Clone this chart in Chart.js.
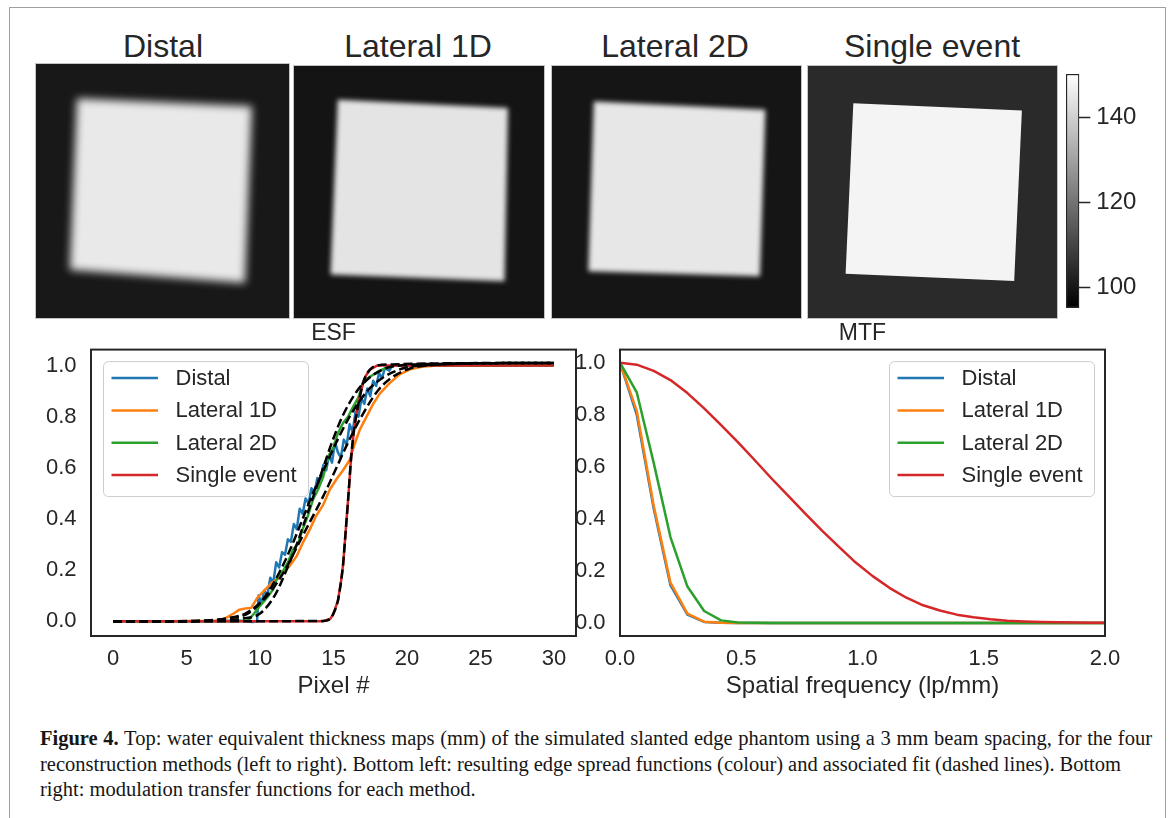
<!DOCTYPE html>
<html>
<head>
<meta charset="utf-8">
<title>Figure 4</title>
<script src="https://cdn.jsdelivr.net/npm/chart.js@4.4.0/dist/chart.umd.min.js"></script>
<style>
body { margin: 0; background: #fff; }
#page { position: relative; width: 1171px; height: 818px; overflow: hidden; color: #262626;
        font-family: "Liberation Sans", Arial, sans-serif; }
#frame { position: absolute; left: 9px; top: 7px; width: 1155px; height: 900px; border: 1px solid #a0a0a0; }
canvas { position: absolute; }
.map { outline: 1px solid #c4c4c4; }
.maptitle { position: absolute; top: 30px; width: 260px; font-size: 32px; line-height: 32px;
            text-align: center; white-space: nowrap; }
.cap { position: absolute; left: 40px; font-family: "Liberation Serif", serif; font-size: 20.5px;
       line-height: 25px; color: #161616; white-space: nowrap; }
</style>
</head>
<body>
<div id="page">
  <div id="frame"></div>

  <div class="maptitle" style="left:33px">Distal</div>
  <div class="maptitle" style="left:288px">Lateral 1D</div>
  <div class="maptitle" style="left:545px">Lateral 2D</div>
  <div class="maptitle" style="left:802px">Single event</div>

  <canvas id="map0" class="map" width="253" height="254" style="left:36px;top:64px"></canvas>
  <canvas id="map1" class="map" width="250" height="252" style="left:294px;top:66px"></canvas>
  <canvas id="map2" class="map" width="249" height="252" style="left:552px;top:66px"></canvas>
  <canvas id="map3" class="map" width="249" height="252" style="left:808px;top:66px"></canvas>
  <canvas id="cbar" width="100" height="260" style="left:1056px;top:64px"></canvas>

  <canvas id="esf" width="590" height="400" style="left:0px;top:320px"></canvas>
  <canvas id="mtf" width="611" height="400" style="left:560px;top:320px"></canvas>

  <div class="cap" data-w="1112" style="top:726px"><b>Figure 4.</b> Top: water equivalent thickness maps (mm) of the simulated slanted edge phantom using a 3 mm beam spacing, for the four</div>
  <div class="cap" data-w="1081" style="top:751.5px">reconstruction methods (left to right). Bottom left: resulting edge spread functions (colour) and associated fit (dashed lines). Bottom</div>
  <div class="cap" style="top:777px">right: modulation transfer functions for each method.</div>
</div>

<script>
// ---- thickness maps (mm) ----
const wetMin = 95.2;
const wetMax = 150.2;
const wetTicks = [100, 120, 140];

const mapTitles = ['Distal', 'Lateral 1D', 'Lateral 2D', 'Single event'];
const mapBackgroundWet = [100.4, 99.6, 99.8, 104.2];
const mapPhantomWet = [145.4, 144.4, 145.0, 147.8];
// phantom corners (TL, TR, BR, BL) in % of the field, y measured downwards
const mapCornerX = [[16.2, 85.3, 82.6, 13.4], [17.5, 85.6, 84.2, 14.6], [16.8, 85.7, 83.5, 14.6], [18.2, 85.9, 82.8, 15.1]];
const mapCornerY = [[13.6, 16.6, 86.2, 81.0], [13.4, 16.7, 85.4, 82.7], [14.1, 17.4, 83.4, 81.4], [14.8, 17.7, 85.3, 82.4]];

// ---- ESF (pixel #) ----
const esfXTicks = [0, 5, 10, 15, 20, 25, 30];
const esfYTicks = [0, 0.2, 0.4, 0.6, 0.8, 1.0];

const distalX = [0, 3, 6, 8, 9, 9.5, 9.8, 9.9, 10.1, 10.3, 10.5, 10.7, 10.9, 11.1, 11.3, 11.5, 11.7, 11.9, 12.1, 12.3, 12.5, 12.7, 12.9, 13.1, 13.3, 13.5, 13.7, 13.9, 14.1, 14.3, 14.5, 14.7, 14.9, 15.1, 15.3, 15.5, 15.7, 15.9, 16.1, 16.3, 16.5, 16.7, 16.9, 17.1, 17.3, 17.5, 17.7, 17.9, 18.1, 18.3, 18.5, 18.8, 19.0, 19.5, 20, 25, 30];
const distalY = [0, 0, 0, 0.002, 0, -0.003, 0, 0.10, 0.07, 0.12, 0.10, 0.17, 0.15, 0.23, 0.21, 0.27, 0.26, 0.32, 0.31, 0.38, 0.36, 0.44, 0.42, 0.48, 0.46, 0.52, 0.50, 0.56, 0.54, 0.61, 0.59, 0.65, 0.62, 0.70, 0.66, 0.64, 0.71, 0.69, 0.77, 0.74, 0.82, 0.80, 0.87, 0.85, 0.91, 0.88, 0.94, 0.92, 0.97, 0.95, 0.99, 0.98, 1.0, 1.0, 1.0, 1.0, 1.0];

const lat1dX = [0, 4, 7, 7.6, 8.2, 8.6, 9.0, 9.4, 9.8, 10.3, 10.8, 11.2, 11.6, 12.0, 12.5, 12.9, 13.4, 13.8, 14.3, 14.75, 15.2, 15.65, 16.1, 16.45, 16.8, 17.25, 17.7, 18.15, 18.8, 19.5, 20.2, 21, 22, 26, 30];
const lat1dY = [0, 0, 0.002, 0.01, 0.03, 0.045, 0.05, 0.052, 0.09, 0.12, 0.15, 0.165, 0.195, 0.215, 0.255, 0.305, 0.36, 0.41, 0.455, 0.515, 0.555, 0.59, 0.63, 0.695, 0.75, 0.80, 0.85, 0.89, 0.93, 0.965, 0.985, 0.995, 1.0, 1.0, 1.0];

const lat2dX = [0, 4, 8, 9.2, 9.6, 10.0, 10.45, 10.9, 11.2, 11.55, 11.9, 12.25, 12.6, 12.9, 13.25, 13.6, 13.95, 14.3, 14.65, 15.0, 15.3, 15.65, 16.0, 16.35, 16.7, 17.0, 17.45, 18.15, 19.0, 22, 30];
const lat2dY = [0, 0, 0, 0.003, 0.03, 0.06, 0.09, 0.125, 0.175, 0.195, 0.23, 0.28, 0.305, 0.36, 0.41, 0.475, 0.515, 0.565, 0.645, 0.68, 0.735, 0.775, 0.80, 0.84, 0.875, 0.93, 0.955, 0.98, 1.0, 1.0, 1.0];

const singleX = [0, 5, 10, 14.3, 14.8, 15.0, 15.3, 15.5, 15.65, 15.8, 16.0, 16.2, 16.4, 16.6, 16.8, 17.0, 17.2, 17.5, 18.0, 22, 30];
const singleY = [0, 0, 0, 0, 0.01, 0.03, 0.08, 0.15, 0.22, 0.33, 0.48, 0.64, 0.75, 0.82, 0.88, 0.93, 0.96, 0.985, 1.0, 1.0, 1.0];

// fitted edge functions (dashed)
const fitDistalX = [0, 4, 7, 8, 9.3, 10.4, 11.4, 12.2, 12.9, 13.6, 14.4, 15.2, 16.1, 17.3, 18.3, 19.8, 21, 23, 26, 30];
const fitDistalY = [0, 0, 0.004, 0.012, 0.034, 0.1, 0.2, 0.3, 0.4, 0.5, 0.6, 0.7, 0.8, 0.9, 0.95, 0.99, 1.0, 1.006, 1.009, 1.01];
const fitLat1dX = [0, 4, 6.5, 7.8, 9.0, 10.5, 11.7, 12.6, 13.5, 14.4, 15.2, 16.0, 16.9, 18.0, 18.9, 20.3, 21.5, 23, 26, 30];
const fitLat1dY = [0, 0, 0.003, 0.012, 0.03, 0.1, 0.2, 0.3, 0.4, 0.5, 0.6, 0.7, 0.8, 0.9, 0.95, 0.99, 1.0, 1.006, 1.009, 1.01];
const fitLat2dX = [0, 4, 7.5, 8.8, 10.0, 11.0, 11.8, 12.5, 13.1, 13.7, 14.3, 14.9, 15.6, 16.6, 17.4, 18.6, 19.5, 22, 26, 30];
const fitLat2dY = [0, 0, 0.002, 0.01, 0.03, 0.1, 0.2, 0.3, 0.4, 0.5, 0.6, 0.7, 0.8, 0.9, 0.95, 0.99, 1.0, 1.006, 1.009, 1.01];
const fitSingleX = [0, 5, 10, 14.3, 14.8, 15.0, 15.3, 15.5, 15.65, 15.8, 16.0, 16.2, 16.4, 16.6, 16.8, 17.0, 17.2, 17.5, 18.0, 19, 22, 30];
const fitSingleY = [0, 0, 0, 0.001, 0.01, 0.03, 0.08, 0.15, 0.22, 0.33, 0.48, 0.64, 0.75, 0.82, 0.88, 0.93, 0.96, 0.985, 1.0, 1.004, 1.008, 1.01];

// ---- MTF (lp/mm) ----
const mtfXTicks = [0, 0.5, 1.0, 1.5, 2.0];
const mtfYTicks = [0, 0.2, 0.4, 0.6, 0.8, 1.0];
const mtfFreq = [0.000, 0.069, 0.139, 0.208, 0.278, 0.347, 0.417, 0.486, 0.556, 0.625, 0.694, 0.764, 0.833, 0.903, 0.972, 1.042, 1.111, 1.181, 1.250, 1.319, 1.389, 1.458, 1.528, 1.597, 1.667, 1.736, 1.806, 1.875, 1.944, 2.014];
const mtfDistal = [1.0, 0.80, 0.44, 0.145, 0.032, 0.004, 0.001, 0, 0, 0, 0, 0, 0, 0, 0, 0, 0, 0, 0, 0, 0, 0, 0, 0, 0, 0, 0, 0, 0, 0];
const mtfLat1d = [1.0, 0.815, 0.45, 0.155, 0.036, 0.005, 0.001, 0, 0, 0, 0, 0, 0, 0, 0, 0, 0, 0, 0, 0, 0, 0, 0, 0, 0, 0, 0, 0, 0, 0];
const mtfLat2d = [1.0, 0.886, 0.615, 0.33, 0.14, 0.046, 0.01, 0.002, 0.001, 0, 0, 0, 0, 0, 0, 0, 0, 0, 0, 0, 0, 0, 0, 0, 0, 0, 0, 0, 0, 0];
const mtfSingle = [1.0, 0.992, 0.968, 0.933, 0.883, 0.824, 0.76, 0.695, 0.625, 0.555, 0.488, 0.42, 0.355, 0.292, 0.232, 0.18, 0.135, 0.097, 0.068, 0.048, 0.032, 0.022, 0.014, 0.009, 0.006, 0.004, 0.003, 0.002, 0.001, 0.001];

const methodColors = ['#1f77b4', '#ff7f0e', '#2ca02c', '#d62728'];
const ink = '#262626';

Chart.defaults.font.family = '"Liberation Sans", Arial, sans-serif';
Chart.defaults.color = ink;

function grey(v) {
    var t = Math.max(0, Math.min(1, (v - wetMin) / (wetMax - wetMin)));
    var g = Math.round(t * 255);
    return 'rgb(' + g + ',' + g + ',' + g + ')';
}

function points(xs, ys) {
    return xs.map(function (x, i) { return { x: x, y: ys[i] }; });
}

// ---- the four maps ----
var mapBlur = [4.5, 2.6, 2.6, 0.6];
mapTitles.forEach(function (title, i) {
    var xs = mapCornerX[i].concat([mapCornerX[i][0]]);
    var ys = mapCornerY[i].concat([mapCornerY[i][0]]);
    new Chart(document.getElementById('map' + i), {
        type: 'line',
        data: {
            datasets: [{
                label: title,
                data: points(xs, ys),
                fill: 'shape',
                backgroundColor: grey(mapPhantomWet[i]),
                borderColor: 'rgba(0,0,0,0)',
                borderWidth: 1,
                pointRadius: 0,
                tension: 0
            }]
        },
        options: {
            responsive: false, animation: false, devicePixelRatio: 1,
            layout: { padding: 0 },
            scales: {
                x: { type: 'linear', display: false, min: 0, max: 100 },
                y: { type: 'linear', display: false, min: 0, max: 100, reverse: true }
            },
            plugins: { legend: { display: false }, tooltip: { enabled: false } }
        },
        plugins: [{
            id: 'mapBackground',
            beforeDraw: function (chart) {
                var ctx = chart.ctx;
                ctx.fillStyle = grey(mapBackgroundWet[i]);
                ctx.fillRect(0, 0, chart.width, chart.height);
                ctx.filter = 'blur(' + mapBlur[i] + 'px)';
            },
            afterDraw: function (chart) { chart.ctx.filter = 'none'; }
        }]
    });
});

// ---- colour bar ----
new Chart(document.getElementById('cbar'), {
    type: 'bar',
    data: {
        labels: ['WET'],
        datasets: [{
            data: [[wetMin, wetMax]],
            backgroundColor: function (c) {
                var a = c.chart.chartArea;
                if (!a) return '#777';
                var g = c.chart.ctx.createLinearGradient(0, a.bottom, 0, a.top);
                g.addColorStop(0, grey(wetMin));
                g.addColorStop(1, grey(wetMax));
                return g;
            },
            borderColor: ink,
            borderWidth: 1.5,
            borderSkipped: false,
            barPercentage: 1,
            categoryPercentage: 1
        }]
    },
    options: {
        responsive: false, animation: false, devicePixelRatio: 1,
        layout: { padding: { left: 10, top: 10, bottom: 16 } },
        scales: {
            x: { display: false },
            y: {
                position: 'right', min: wetMin, max: wetMax,
                afterBuildTicks: function (s) { s.ticks = wetTicks.map(function (v) { return { value: v }; }); },
                afterFit: function (s) { s.width = 76.7; s.paddingTop = 0; s.paddingBottom = 0; },
                grid: { drawOnChartArea: false, tickLength: 11, tickColor: ink, tickWidth: 1.5 },
                border: { display: false },
                ticks: { padding: 6, font: { size: 24 }, color: ink }
            }
        },
        plugins: { legend: { display: false }, tooltip: { enabled: false } }
    }
});

// ---- ESF / MTF panels ----
var frameBox = {
    id: 'frameBox',
    afterDatasetsDraw: function (chart) {
        var a = chart.chartArea, ctx = chart.ctx;
        ctx.save();
        ctx.strokeStyle = ink;
        ctx.lineWidth = 2;
        ctx.strokeRect(a.left, a.top, a.right - a.left, a.bottom - a.top);
        ctx.restore();
    }
};

var boxLegend = {
    id: 'boxLegend',
    afterDraw: function (chart, args, opts) {
        var a = chart.chartArea, ctx = chart.ctx;
        var items = chart.data.datasets.filter(function (d) { return d.inLegend; });
        var w = 205, h = 135;
        var left = opts.side === 'left' ? a.left + 12 : a.right - 11 - w;
        var top = a.top + 11.5;
        ctx.save();
        ctx.beginPath();
        ctx.roundRect(left + 0.5, top + 0.5, w, h, 5);
        ctx.fillStyle = 'rgba(255,255,255,0.8)';
        ctx.fill();
        ctx.strokeStyle = '#cccccc';
        ctx.lineWidth = 1;
        ctx.stroke();
        ctx.font = '22px "Liberation Sans", Arial, sans-serif';
        ctx.textBaseline = 'middle';
        items.forEach(function (d, k) {
            var y = top + 17 + k * 32.3;
            ctx.strokeStyle = d.borderColor;
            ctx.lineWidth = 2.5;
            ctx.beginPath();
            ctx.moveTo(left + 8.5, y);
            ctx.lineTo(left + 55, y);
            ctx.stroke();
            ctx.fillStyle = ink;
            ctx.fillText(d.label, left + 72.5, y + 1);
        });
        ctx.restore();
    }
};

function panel(id, cfg) {
    return new Chart(document.getElementById(id), {
        type: 'line',
        data: { datasets: cfg.datasets },
        options: {
            responsive: false, animation: false, devicePixelRatio: 1,
            layout: { padding: { right: cfg.rightPad, top: 0, bottom: 0, left: 0 } },
            elements: {
                point: { radius: 0 },
                line: { borderWidth: 2.5, tension: 0, borderJoinStyle: 'round', borderCapStyle: 'butt' }
            },
            scales: {
                x: {
                    type: 'linear', min: cfg.xMin, max: cfg.xMax,
                    grid: { display: false, drawTicks: false }, border: { display: false },
                    afterBuildTicks: function (s) { s.ticks = cfg.xTicks.map(function (v) { return { value: v }; }); },
                    afterFit: function (s) { s.height = 84; },
                    ticks: { padding: 10, autoSkip: false, maxRotation: 0, font: { size: 22 }, color: ink, callback: cfg.xFmt },
                    title: { display: true, text: cfg.xTitle, font: { size: 24 }, color: ink, padding: { top: 0, bottom: 19 } }
                },
                y: {
                    type: 'linear', min: cfg.yMin, max: cfg.yMax,
                    grid: { display: false, drawTicks: false }, border: { display: false },
                    afterBuildTicks: function (s) { s.ticks = cfg.yTicks.map(function (v) { return { value: v }; }); },
                    afterFit: function (s) { s.width = cfg.yWidth; },
                    ticks: { padding: 14.5, font: { size: 22 }, color: ink, callback: function (v) { return v.toFixed(1); } }
                }
            },
            plugins: {
                legend: { display: false },
                tooltip: { enabled: false },
                title: { display: true, text: cfg.title, fullSize: false, color: ink,
                         font: { size: 23, weight: 'normal' }, padding: { top: 0, bottom: 2 } },
                boxLegend: { side: cfg.legendSide }
            }
        },
        plugins: [frameBox, boxLegend]
    });
}

function curve(label, xs, ys, color, order) {
    return { label: label, data: points(xs, ys), borderColor: color, order: order, inLegend: true };
}
function fit(xs, ys) {
    return { label: 'fit', data: points(xs, ys), borderColor: '#000000', borderDash: [9, 4],
             cubicInterpolationMode: 'monotone', order: 1, inLegend: false };
}

panel('esf', {
    title: 'ESF', xTitle: 'Pixel #',
    xMin: -1.5, xMax: 31.5, yMin: -0.058, yMax: 1.062,
    xTicks: esfXTicks, yTicks: esfYTicks,
    xFmt: function (v) { return String(v); },
    yWidth: 91, rightPad: 14, legendSide: 'left',
    datasets: [
        curve(mapTitles[0], distalX, distalY, methodColors[0], 5),
        curve(mapTitles[1], lat1dX, lat1dY, methodColors[1], 4),
        curve(mapTitles[2], lat2dX, lat2dY, methodColors[2], 3),
        curve(mapTitles[3], singleX, singleY, methodColors[3], 2),
        fit(fitDistalX, fitDistalY),
        fit(fitLat1dX, fitLat1dY),
        fit(fitLat2dX, fitLat2dY),
        fit(fitSingleX, fitSingleY)
    ]
});

panel('mtf', {
    title: 'MTF', xTitle: 'Spatial frequency (lp/mm)',
    xMin: 0, xMax: 2, yMin: -0.05, yMax: 1.05,
    xTicks: mtfXTicks, yTicks: mtfYTicks,
    xFmt: function (v) { return v.toFixed(1); },
    yWidth: 60, rightPad: 66, legendSide: 'right',
    datasets: [
        curve(mapTitles[0], mtfFreq, mtfDistal, methodColors[0], 5),
        curve(mapTitles[1], mtfFreq, mtfLat1d, methodColors[1], 4),
        curve(mapTitles[2], mtfFreq, mtfLat2d, methodColors[2], 3),
        curve(mapTitles[3], mtfFreq, mtfSingle, methodColors[3], 2)
    ]
});

// stretch the first two caption lines to the column width
document.querySelectorAll('.cap[data-w]').forEach(function (el) {
    var target = +el.getAttribute('data-w');
    var spaces = (el.textContent.match(/ /g) || []).length;
    var natural = el.getBoundingClientRect().width;
    el.style.wordSpacing = ((target - natural) / spaces) + 'px';
});
</script>
</body>
</html>
